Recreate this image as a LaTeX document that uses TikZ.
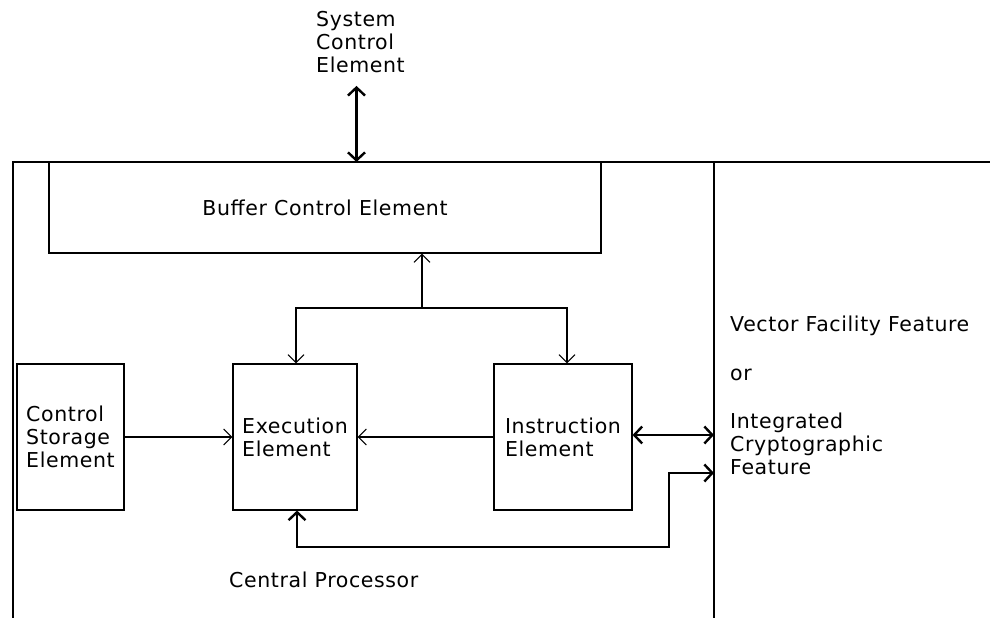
\documentclass[tikz,border=0pt]{standalone}
\usepackage{fontspec}
\setmainfont{DejaVu Sans}[LetterSpace=3]
\usetikzlibrary{arrows.meta, positioning}

\begin{document}
\begin{tikzpicture}[
    x=1pt, y=-1pt,
    every node/.style={font=\fontsize{20.5}{23}\selectfont},
    unitbox/.style={draw, line width=1.1pt, inner sep=0pt, align=left,
                 minimum height=146pt},
    txt/.style={align=left, inner sep=0pt},
    arr/.style={-{Straight Barb[length=8pt, width=16pt]}, line width=1.1pt},
    busarr/.style={{Straight Barb[length=8pt, width=17pt]}-{Straight Barb[length=8pt, width=17pt]},
                 line width=2.4pt},
]
    \useasboundingbox (0,0) rectangle (990,618);

    % Frame
    \draw[line width=1.3pt] (13,618) |- (990,162);
    \draw[line width=1.3pt] (714,162) -- (714,618);
    \coordinate (div) at (714,162);

    \node[unitbox, minimum width=552pt, minimum height=91pt] (bce) at (325,207.5) {Buffer Control Element};
    \node[unitbox, minimum width=107pt] (cse) at (70.5,437) {Control\\Storage\\Element};
    \node[unitbox, minimum width=124pt] (ee) at (295,437) {Execution\\Element};
    \node[unitbox, minimum width=138pt] (ie) at (563,437) {Instruction\\Element};

    % Labels
    \node[txt, anchor=north west] (sce) at (316,11) {System\\Control\\Element};
    \node[txt, anchor=base west] (cp) at (229,587) {Central Processor};
    \node[txt, anchor=base west] (vff) at (730,331) {Vector Facility Feature};
    \node[txt, anchor=base west] (orlbl) at (730,380) {or};
    \node[txt, anchor=north west] (icf) at (730,413) {Integrated\\Cryptographic\\Feature};

    % Links
    \coordinate (jn) at (422,308);
    \draw[arr] (jn) -- (jn |- bce.south);
    \draw[arr] (jn) -| ([xshift=1pt]ee.north);
    \draw[arr] (jn) -| ([xshift=4pt]ie.north);
    \draw[arr] (cse) -- (ee);
    \draw[arr] (ie) -- (ee);

    \draw[busarr] ([xshift=-4pt, yshift=-13pt]sce.south) -- ([xshift=-4pt]sce.south |- div);
    \draw[busarr] ([yshift=2pt]ie.east) -- ([yshift=2pt]ie.east -| div);
    \coordinate (icfin) at (714,473);
    \draw[busarr] ([xshift=2pt]ee.south) |- (669,547) |- (icfin);
\end{tikzpicture}
\end{document}
